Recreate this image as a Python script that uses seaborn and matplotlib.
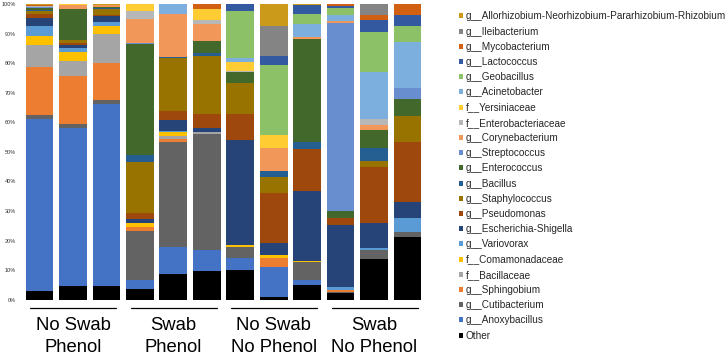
import numpy as np
import pandas as pd
import matplotlib
matplotlib.use('Agg')
import matplotlib.pyplot as plt
from matplotlib.patches import Patch
from matplotlib.ticker import PercentFormatter
import seaborn as sns

sns.set_theme(style='white')
plt.rcParams['font.family'] = ['Liberation Sans', 'DejaVu Sans']

# 12 samples, 3 per group
samples = list(range(12))
group_top = ['No Swab', 'Swab', 'No Swab', 'Swab']
group_bottom = ['Phenol', 'Phenol', 'No Phenol', 'No Phenol']

# relative abundance (%) per taxon
allorhizobium = [0.5, 0, 0.4, 0, 0, 0, 0, 7.6, 0.3, 0, 0, 0]
ileibacterium = [0, 0, 0, 0, 0, 0, 0, 9.9, 0, 0, 3.8, 0]
mycobacterium = [0.1, 0, 0, 0, 0, 1.7, 0, 0, 0, 0.6, 1.5, 3.6]
lactococcus = [0, 0, 0, 0, 0, 0, 2.4, 3.0, 3.1, 0.7, 4.3, 3.7]
geobacillus = [0, 0, 0, 0, 0, 0, 16.0, 23.9, 3.3, 2.3, 13.4, 5.6]
acinetobacter = [0, 0, 0, 0, 3.5, 0, 1.3, 0, 4.5, 2.0, 16.0, 15.6]
yersiniaceae = [0.2, 0.2, 0, 2.4, 0, 3.7, 2.9, 4.2, 0, 0, 0, 0]
enterobacteriaceae = [0.1, 0, 0, 2.8, 0, 1.5, 0.3, 0, 0, 0, 1.8, 0]
corynebacterium = [0.3, 1.4, 0.5, 7.9, 14.3, 5.7, 0, 7.7, 0.7, 0.9, 1.8, 0]
streptococcus = [0.1, 0.1, 0, 0.5, 0, 0, 0, 0, 0, 63.3, 0, 3.6]
enterococcus = [0.9, 10.5, 0.6, 37.6, 0, 4.0, 3.7, 0, 34.7, 2.7, 6.0, 5.8]
bacillus = [0.3, 0.1, 0.3, 2.3, 0.6, 0.9, 0, 2.1, 2.3, 0, 4.4, 0]
staphylococcus = [0.8, 0.8, 1.8, 17.1, 17.9, 19.7, 10.5, 5.5, 0, 0, 2.1, 8.6]
pseudomonas = [1.5, 0.7, 0.4, 2.1, 3.0, 4.6, 8.9, 16.9, 14.4, 2.1, 18.9, 20.4]
escherichia = [2.6, 1.0, 2.2, 1.3, 3.7, 1.6, 35.6, 4.0, 23.7, 21.2, 8.6, 5.3]
variovorax = [3.4, 1.3, 1.1, 0, 0.2, 0, 0, 0, 0, 0.7, 0.5, 4.7]
comamonadaceae = [3.2, 3.1, 2.7, 1.4, 1.5, 0, 0.5, 1.1, 0.3, 0, 0, 0.3]
bacillaceae = [7.4, 5.0, 9.8, 0, 1.0, 0.7, 0, 0, 0, 0, 0, 0]
sphingobium = [16.1, 16.4, 12.5, 1.3, 1.1, 0, 0, 3.0, 0, 0.8, 0, 0]
cutibacterium = [1.3, 1.2, 1.4, 16.6, 35.4, 39.0, 3.8, 0, 5.9, 0.3, 3.0, 1.7]
anoxybacillus = [58.2, 53.5, 61.6, 3.1, 9.2, 7.0, 4.0, 10.2, 1.7, 0, 0, 0]
other = [3.0, 4.7, 4.7, 3.6, 8.6, 9.9, 10.1, 0.9, 5.1, 2.4, 13.9, 21.1]

# legend order (top of the stack first)
taxa = ['g__Allorhizobium-Neorhizobium-Pararhizobium-Rhizobium', 'g__Ileibacterium',
        'g__Mycobacterium', 'g__Lactococcus', 'g__Geobacillus', 'g__Acinetobacter',
        'f__Yersiniaceae', 'f__Enterobacteriaceae', 'g__Corynebacterium',
        'g__Streptococcus', 'g__Enterococcus', 'g__Bacillus', 'g__Staphylococcus',
        'g__Pseudomonas', 'g__Escherichia-Shigella', 'g__Variovorax',
        'f__Comamonadaceae', 'f__Bacillaceae', 'g__Sphingobium', 'g__Cutibacterium',
        'g__Anoxybacillus', 'Other']
values = [allorhizobium, ileibacterium, mycobacterium, lactococcus, geobacillus,
          acinetobacter, yersiniaceae, enterobacteriaceae, corynebacterium,
          streptococcus, enterococcus, bacillus, staphylococcus, pseudomonas,
          escherichia, variovorax, comamonadaceae, bacillaceae, sphingobium,
          cutibacterium, anoxybacillus, other]
colors = ['#CC9A1A', '#848484', '#D26012', '#335AA1', '#8CC168', '#7CAFDD',
          '#FFCD33', '#B7B7B7', '#F1975A', '#698ED0', '#43682B', '#255E91',
          '#997300', '#9E480E', '#264478', '#5B9BD5', '#FFC000', '#A5A5A5',
          '#ED7D31', '#636363', '#4472C4', '#000000']

rows = []
for name, vals in zip(taxa, values):
    for s, v in zip(samples, vals):
        rows.append((s, name, v))
df = pd.DataFrame(rows, columns=['sample', 'taxon', 'abundance'])

fig = plt.figure(figsize=(7.28, 3.57), dpi=100)
ax = fig.add_axes([0.0313, 0.16, 0.5514, 0.829])

sns.histplot(data=df, x='sample', weights='abundance', hue='taxon', hue_order=taxa,
             palette=dict(zip(taxa, colors)), multiple='fill', discrete=True,
             shrink=0.83, linewidth=0, alpha=1, legend=False, ax=ax)

ax.set_xlim(-0.5, 11.5)
ax.set_ylim(0, 1)
ax.set_yticks(np.arange(0, 1.01, 0.1))
ax.yaxis.set_major_formatter(PercentFormatter(1, decimals=0))
ax.tick_params(axis='y', labelsize=4, length=0, pad=5, labelcolor='#333333')
ax.set_xticks([])
ax.set_xlabel('')
ax.set_ylabel('')
sns.despine(ax=ax, left=True, bottom=True)

# group underlines and labels
tr = ax.get_xaxis_transform()
for g in range(4):
    x0 = 3 * g
    ax.plot([x0 - 0.27, x0 + 2.3], [-0.029, -0.029], color='black', lw=0.9,
            transform=tr, clip_on=False)
    ax.text(x0 + 1, -0.086, group_top[g], transform=tr, ha='center', va='center',
            fontsize=13.3, color='black')
    ax.text(x0 + 1, -0.162, group_bottom[g], transform=tr, ha='center', va='center',
            fontsize=13.3, color='black')

handles = [Patch(facecolor=c, edgecolor='none', label=t) for t, c in zip(taxa, colors)]
fig.legend(handles=handles, loc='upper left', bbox_to_anchor=(459 / 728, 0.968),
           frameon=False, fontsize=7.2, handlelength=0.4, handleheight=0.4,
           handletextpad=0.3, labelspacing=0.52, borderpad=0, borderaxespad=0)

fig.savefig('out.png', dpi=100)
